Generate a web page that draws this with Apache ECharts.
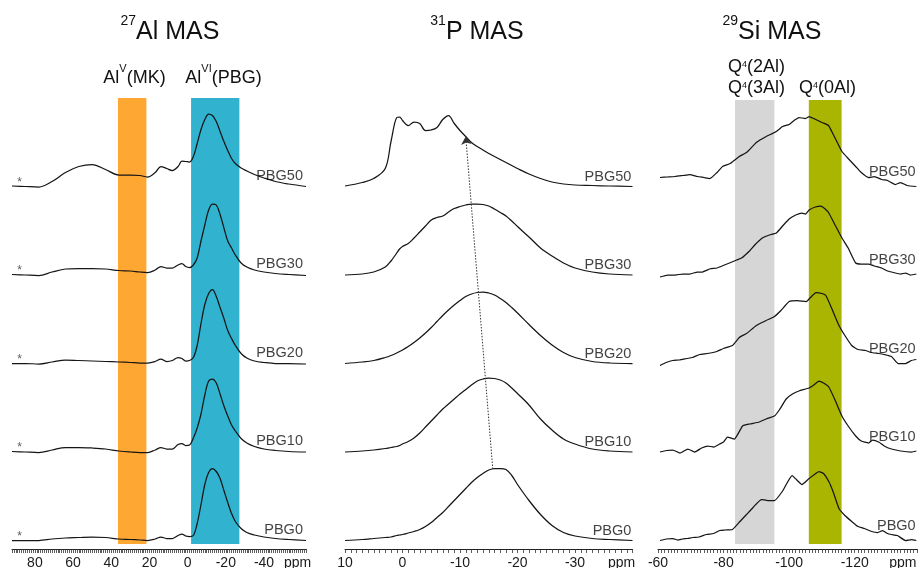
<!DOCTYPE html>
<html><head><meta charset="utf-8">
<script src="https://cdn.jsdelivr.net/npm/echarts@6/dist/echarts.min.js"></script>
<style>html,body{margin:0;padding:0;background:#fff}#c{width:919px;height:568px}</style>
</head><body><div id="c"></div>
<script>
const FONT = '"Liberation Sans", Arial, Helvetica, sans-serif';
const samples = ['PBG0', 'PBG10', 'PBG20', 'PBG30', 'PBG50'];

// ---- 27Al MAS (ppm grid + intensities per sample) ----
const alPpm = [92, 85, 78, 71, 64, 57, 50, 43, 36, 30, 25, 21, 17, 14, 11, 8, 5, 3, 1, -1, -3, -5, -7, -9, -11, -13, -15, -17, -19, -21, -23, -25, -28, -31, -35, -40, -46, -53, -62];
const alPBG0  = [0, 0, 0, 1.5, 2.5, 3, 3.5, 3, 1.5, 1, 0.5, 0, 1.5, 3.5, 2, 2, 5, 6.5, 4.5, 4, 5, 17, 36, 56, 68, 72, 69, 62, 50, 38, 27, 19, 12, 8, 5.5, 3.5, 2, 1, 0];
const alPBG10 = [0.5, 0, -0.5, 2, 4.5, 4.5, 4, 3, 1, 0, -0.5, -0.5, 2, 4.5, 3, 3, 7.5, 8.5, 6.5, 7, 14, 24, 38, 57, 71, 73, 69, 58, 46, 36, 27, 21, 13.5, 9, 5.5, 3, 1.5, 0.5, 0];
const alPBG20 = [0, 0, -0.5, 1.5, 3.5, 3, 2.5, 2, 1.5, 1, 0.5, 0.5, 2, 4.5, 2, 3, 6, 5, 2.5, 3, 6, 18, 40, 59, 70, 74, 67, 56, 45, 33, 25, 18, 10, 5.5, 2.5, 1, 0, 0, -0.5];
const alPBG30 = [0.5, 0, -0.5, 3, 6, 6.5, 6.5, 6, 4.5, 4, 3, 2.5, 5, 8.5, 7, 7, 10, 11.5, 8.5, 7.5, 10, 17, 34, 50, 65, 71, 70, 60.5, 47, 34, 27, 20, 12, 8, 5, 3, 1.5, 0.5, -0.5];
const alPBG50 = [0.5, 0, -0.5, 5, 14, 20, 22, 17, 11.5, 11.5, 11, 9.5, 14, 20, 18, 16, 20, 25.5, 25, 24.5, 30, 43, 57, 67, 72.5, 71, 65, 55, 45, 36, 28, 23, 18.5, 15.5, 12, 8.5, 5, 2.5, 0];

// ---- 31P MAS ----
const pPpm = [10, 7, 5, 3, 2, 1, 0.5, 0, -1, -2, -3, -4, -5, -6, -7, -8, -9, -10, -11, -12, -13, -14, -15, -16, -17, -18, -19, -20, -22, -24, -26, -28, -30, -33, -36, -40];
const pPBG0  = [0, 1, 2, 3, 3.5, 5, 5.5, 6, 7.5, 9, 11, 14, 18, 23, 28, 34, 40, 46, 52, 58, 63, 67, 70.5, 72, 72, 71, 65, 56, 40, 26, 15, 8, 4.5, 2, 1, 0];
const pPBG10 = [0, 1, 2, 3.5, 4.5, 5.5, 6.5, 8, 10.5, 14, 19, 25, 31, 37, 43, 48, 53, 58, 62.5, 67, 71, 73, 74, 73.5, 72, 69, 64, 58.5, 47, 33, 22, 13, 8, 3, 1, 0];
const pPBG20 = [0, 1.5, 3, 6, 8, 10.5, 12, 13.5, 17, 21, 25.5, 30.5, 36, 42, 48, 53.5, 58.5, 63, 67, 69.5, 71, 71.5, 70.5, 68.5, 65, 61, 56, 50.5, 39, 28, 18.5, 11, 6, 2, 0.5, 0];
const pPBG30 = [0, 1, 3, 8, 14, 22, 26, 28.5, 31.5, 37, 43, 49, 55, 57.5, 59, 63, 66.5, 68.5, 70, 71, 71, 70.5, 69, 66, 62.5, 59, 54, 48.5, 38, 27, 19, 12, 7, 3, 1, 0];
const pPBG50 = [0.5, 4, 8, 18, 45, 69, 69.5, 66, 61, 64.5, 63, 56, 56.5, 59, 67, 71, 63, 56, 50, 44, 40, 36.5, 33, 30, 27, 24, 21, 18, 12.5, 8, 4.5, 2.5, 1.5, 1, 0.5, 0];

// ---- 29Si MAS ([ppm, intensity]) ----
const siPBG0 = [[-60.6,0],[-62.5,1.5],[-64.5,2],[-66,0.5],[-67.5,1.5],[-69,2],[-70.6,3],[-72.5,3.5],[-74.8,6],[-77,7],[-78.8,10],[-80.5,10.5],[-82.7,11],[-85,19],[-87,26],[-89,33],[-91.5,41],[-93.5,40],[-95.5,40],[-97.9,49],[-100.9,65],[-102.5,60],[-103.9,56],[-106.1,62],[-109.1,69],[-110.5,67],[-112.1,59],[-113.5,48],[-115.2,32],[-117,25],[-119.1,19],[-121,14],[-123,12],[-125.2,9],[-127,8],[-128.5,10],[-130,7],[-131.2,6],[-133,5],[-135.5,0],[-137.3,1],[-138.8,0]];
const siPBG10 = [[-60.6,0],[-62.5,1.5],[-64.5,2],[-66.7,-1],[-69.1,3],[-71.2,0],[-73.3,4],[-75.2,6],[-77,5],[-78.8,8],[-80,10],[-81.2,15],[-83.3,13],[-85.8,26],[-88,28],[-90.9,30],[-93,33],[-95.5,36],[-97,42],[-99.1,53],[-101,58],[-103,61],[-106.1,64],[-107.5,67],[-109.1,71],[-110.5,69],[-112.1,65],[-114,52],[-116.1,36],[-118,26],[-120.3,16],[-122,11],[-124.2,9],[-125.5,12],[-127.3,10],[-129,6],[-131.2,3],[-134,1],[-137.3,0],[-138.8,1]];
const siPBG20 = [[-60.6,-2],[-62.5,1],[-64.5,3],[-66.5,3.5],[-68.8,5],[-70.5,6],[-72.7,9],[-75,10],[-77.9,12],[-80,15],[-82.7,18],[-84.8,26],[-87,30],[-90,38],[-93,43],[-95.5,47],[-97.5,53],[-100,62],[-102.5,63],[-105.2,62],[-106.5,66],[-108.2,71],[-110,70],[-111.2,68],[-113,55],[-115.2,38],[-117,28],[-119.1,18],[-121,14],[-123.3,13],[-125,11],[-127.3,10],[-129,9],[-131.2,7],[-133.3,0],[-135.5,0],[-137.3,3],[-138.8,4]];
const siPBG30 = [[-60.6,-2],[-63,0],[-65.2,0],[-67.5,1],[-69.7,1],[-72,3],[-73.5,3],[-75.8,6],[-78,7],[-79.5,9],[-81.8,12],[-84,15],[-85.5,17],[-87.9,24],[-89.5,30],[-91.8,37],[-94,40],[-96.1,42],[-98,49],[-100,56],[-102,60],[-103.9,62],[-105,61],[-106.1,65],[-108,68],[-109.7,69],[-111,66],[-112.1,62],[-114,50],[-116.1,37],[-118,27],[-120.3,12],[-122,11],[-124.2,11],[-126,9],[-128.2,7],[-130,4],[-132.4,2],[-134,1],[-135.5,2],[-137,0],[-138.8,1]];
const siPBG50 = [[-60.6,9],[-63,9.5],[-65.2,10],[-67.5,11],[-69.7,12],[-72,10],[-74,9],[-75.8,8],[-78,14],[-79.7,20],[-82,23],[-84.8,30],[-87,34],[-90,44],[-93,50],[-96.1,55],[-98,60],[-100,62],[-101.5,66],[-103,69],[-105,68],[-106.1,70],[-107.5,68],[-110,64],[-112,61],[-113,55],[-115,42],[-116.1,35],[-118,28],[-120.3,20],[-122,14],[-124.2,9],[-126,10],[-128.2,7],[-130,6],[-132.4,2],[-134,4],[-136,1],[-138.8,0]];

// ---- ticks, bands, annotation ----
const alTickLabels = [80, 60, 40, 20, 0, -20, -40];
const pTickLabels = [10, 0, -10, -20, -30];
const siTickLabels = [-60, -80, -100, -120];
const alBandPpm = [[36.5, 21.6], [-1.8, -27.1]];
const siBandPpm = [[-83.5, -95.5], [-106, -116]];
const pShiftArrowPpm = [-15.7, -11];

// ---------------- layout / styles ----------------
const BASE = 8.5, STEP = 88.5;
const offsets = samples.map((_, j) => BASE + j * STEP);
const TOP = 49, H = 500;
const LINE_COLOR = '#151515';

function gridPairs(ppm, vals) { return ppm.map((x, k) => [x, vals[k]]); }
function interp(pairs, x) {
  for (let k = 0; k < pairs.length - 1; k++) {
    const a = pairs[k], b = pairs[k + 1];
    if ((x - a[0]) * (x - b[0]) <= 0) {
      const t = (x - a[0]) / (b[0] - a[0]);
      return a[1] + t * (b[1] - a[1]);
    }
  }
  return 0;
}
function range(min, max, step) { const r = []; for (let v = min; v <= max + 1e-9; v += step) r.push(Math.round(v * 100) / 100); return r; }

const panels = [
  { left: 12, width: 294, min: -62, max: 92, tickStep: 1, labels: alTickLabels, unit: -57.6,
    data: [alPBG0, alPBG10, alPBG20, alPBG30, alPBG50].map(v => gridPairs(alPpm, v)),
    labelPpm: -60.4, labelLift: 11, smooth: 0.35,
    bands: alBandPpm, bandColors: ['#FEA733', '#31B2CE'], bandTop: 451 },
  { left: 345, width: 287.5, min: -40, max: 10, tickStep: 1, labels: pTickLabels, unit: -38.1,
    data: [pPBG0, pPBG10, pPBG20, pPBG30, pPBG50].map(v => gridPairs(pPpm, v)),
    labelPpm: -39.8, labelLift: 10, smooth: 0.35, bands: [], bandColors: [] },
  { left: 658, width: 259, min: -139, max: -60, tickStep: 1, labels: siTickLabels, unit: -134.7,
    data: [siPBG0, siPBG10, siPBG20, siPBG30, siPBG50],
    labelPpm: -138.6, labelLift: 15, smooth: 0.15,
    bands: siBandPpm, bandColors: ['#D6D6D6', '#A9B500'], bandTop: 449 }
];

const grid = [], xAxis = [], yAxis = [], series = [];
panels.forEach((p, i) => {
  grid.push({ left: p.left, width: p.width, top: TOP, height: H, outerBoundsMode: 'none', containLabel: false });
  xAxis.push({
    type: 'value', gridIndex: i, inverse: true, min: p.min, max: p.max,
    splitLine: { show: false },
    axisLine: { show: true, onZero: false, lineStyle: { color: '#222', width: 1 } },
    axisTick: { show: true, length: 4, customValues: range(p.min, p.max, p.tickStep), lineStyle: { color: '#333', width: 0.8 } },
    axisLabel: {
      show: true, customValues: p.labels.concat([p.unit]), margin: 7,
      fontFamily: FONT, fontSize: 14, color: '#1a1a1a',
      formatter: v => (Math.abs(v - p.unit) < 1e-6 ? 'ppm' : String(v))
    }
  });
  yAxis.push({ type: 'value', gridIndex: i, min: 0, max: H, show: false });

  series.push({
    type: 'line', xAxisIndex: i, yAxisIndex: i, data: [], z: 1, silent: true,
    markArea: {
      silent: true,
      data: p.bands.map((b, k) => [
        { xAxis: b[0], yAxis: 5, itemStyle: { color: p.bandColors[k], opacity: 1 } },
        { xAxis: b[1], yAxis: p.bandTop }
      ])
    }
  });

  p.data.forEach((pairs, j) => {
    series.push({
      type: 'line', name: samples[j] + '-' + i, xAxisIndex: i, yAxisIndex: i, z: 3,
      showSymbol: false, smooth: p.smooth, silent: true,
      lineStyle: { color: LINE_COLOR, width: 1.25 },
      data: pairs.map(([x, v]) => [x, v + offsets[j]])
    });
  });

  series.push({
    type: 'scatter', xAxisIndex: i, yAxisIndex: i, z: 4, symbolSize: 0, silent: true,
    data: samples.map((n, j) => ({ name: n, value: [p.labelPpm, offsets[j] + p.labelLift] })),
    label: { show: true, position: 'left', distance: 0, formatter: '{b}', fontFamily: FONT, fontSize: 14.5, color: '#111' }
  });
});

series.push({
  type: 'scatter', xAxisIndex: 0, yAxisIndex: 0, z: 4, symbolSize: 0, silent: true,
  data: samples.map((n, j) => [88, offsets[j] + 4]),
  label: { show: true, position: 'inside', formatter: '*', fontFamily: FONT, fontSize: 12, color: '#333' }
});

const pStart = [pShiftArrowPpm[0], interp(panels[1].data[0], pShiftArrowPpm[0]) + offsets[0]];
const pEnd = [pShiftArrowPpm[1], interp(panels[1].data[4], pShiftArrowPpm[1]) + offsets[4]];
series.push({
  type: 'line', xAxisIndex: 1, yAxisIndex: 1, data: [], z: 5, silent: true,
  markLine: {
    silent: true, symbol: ['none', 'arrow'], symbolSize: 8,
    label: { show: false },
    lineStyle: { color: '#333', type: [1.5, 1.5], width: 1 },
    data: [[{ coord: pStart }, { coord: pEnd }]]
  }
});

// text with superscripts: pieces laid out left to right, centred on cx
const measureCtx = document.createElement('canvas').getContext('2d');
function textWidth(t, size) { measureCtx.font = size + 'px ' + FONT; return measureCtx.measureText(t).width; }
function pieces(cx, parts) {
  const widths = parts.map(p => textWidth(p.t, p.size));
  const total = widths.reduce((a, b) => a + b, 0);
  let x = cx - total / 2;
  return parts.map((p, k) => {
    const el = {
      type: 'text', x: x, y: p.cy, silent: true,
      style: { text: p.t, fontSize: p.size, fontFamily: FONT, fill: '#111', align: 'left', verticalAlign: 'middle' }
    };
    x += widths[k];
    return el;
  });
}

const graphic = [].concat(
  pieces(170, [{ t: '27', size: 14, cy: 21 }, { t: 'Al MAS', size: 25, cy: 32.5 }]),
  pieces(477, [{ t: '31', size: 14, cy: 21 }, { t: 'P MAS', size: 25, cy: 32.5 }]),
  pieces(772, [{ t: '29', size: 14, cy: 21 }, { t: 'Si MAS', size: 25, cy: 32.5 }]),
  pieces(134.5, [{ t: 'Al', size: 18, cy: 78.5 }, { t: 'V', size: 11, cy: 69 }, { t: '(MK)', size: 18, cy: 78.5 }]),
  pieces(223.5, [{ t: 'Al', size: 18, cy: 78.5 }, { t: 'VI', size: 11, cy: 69 }, { t: '(PBG)', size: 18, cy: 78.5 }]),
  pieces(756.5, [{ t: 'Q', size: 18, cy: 67 }, { t: '4', size: 9, cy: 65 }, { t: '(2Al)', size: 18, cy: 67 }]),
  pieces(756.5, [{ t: 'Q', size: 18, cy: 88 }, { t: '4', size: 9, cy: 86 }, { t: '(3Al)', size: 18, cy: 88 }]),
  pieces(827.5, [{ t: 'Q', size: 18, cy: 88 }, { t: '4', size: 9, cy: 86 }, { t: '(0Al)', size: 18, cy: 88 }])
);

const chart = echarts.init(document.getElementById('c'), null, { renderer: 'canvas' });
chart.setOption({
  animation: false,
  backgroundColor: '#fff',
  grid, xAxis, yAxis, series, graphic
});
</script>
</body></html>
